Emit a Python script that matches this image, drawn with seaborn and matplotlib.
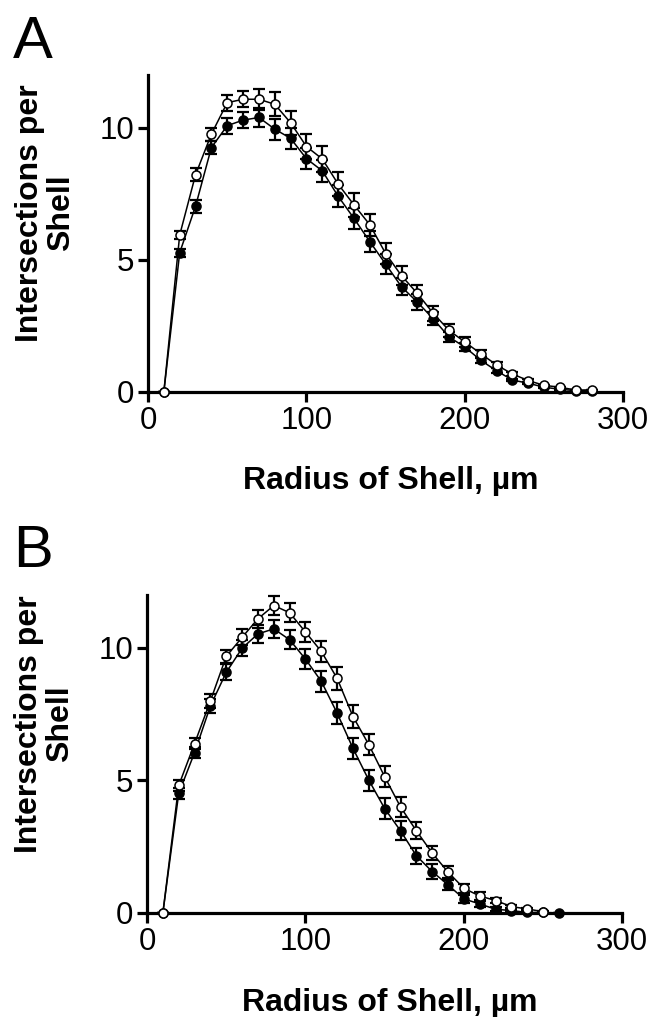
import numpy as np
import pandas as pd
import matplotlib
matplotlib.use("Agg")
import matplotlib.pyplot as plt
import seaborn as sns

# радиусы оболочек, мкм
radius_a = list(range(10, 290, 10))
radius_b_open = list(range(10, 260, 10))
radius_b_filled = list(range(10, 270, 10))

# панель A
a_open = [0, 5.94, 8.22, 9.76, 10.95, 11.08, 11.08, 10.89, 10.19, 9.29, 8.82, 7.87, 7.08, 6.33,
          5.24, 4.40, 3.73, 2.98, 2.33, 1.89, 1.45, 1.02, 0.68, 0.43, 0.25, 0.18, 0.07, 0.08]
a_open_err = [0, 0.15, 0.25, 0.25, 0.3, 0.3, 0.4, 0.45, 0.45, 0.48, 0.5, 0.45, 0.45, 0.42,
              0.4, 0.35, 0.3, 0.28, 0.25, 0.2, 0.15, 0.12, 0.08, 0.05, 0.03, 0.02, 0.01, 0.01]
a_filled = [0, 5.27, 7.03, 9.25, 10.08, 10.29, 10.39, 9.95, 9.60, 8.83, 8.37, 7.41, 6.57, 5.69,
            4.84, 3.98, 3.40, 2.77, 2.08, 1.70, 1.20, 0.80, 0.45, 0.33, 0.18, 0.10, 0.05, 0.04]
a_filled_err = [0, 0.15, 0.25, 0.25, 0.3, 0.3, 0.35, 0.4, 0.4, 0.4, 0.42, 0.42, 0.4, 0.4,
                0.37, 0.32, 0.3, 0.25, 0.2, 0.15, 0.12, 0.1, 0.05, 0.04, 0.02, 0.01, 0.01, 0.01]

# панель B
b_open = [0, 4.81, 6.39, 8.0, 9.68, 10.4, 11.1, 11.6, 11.33, 10.6, 9.87, 8.85, 7.41, 6.35,
          5.14, 4.0, 3.1, 2.26, 1.54, 0.93, 0.64, 0.47, 0.24, 0.15, 0.05]
b_open_err = [0, 0.2, 0.2, 0.25, 0.25, 0.3, 0.35, 0.35, 0.35, 0.38, 0.4, 0.42, 0.42, 0.4,
              0.4, 0.38, 0.32, 0.28, 0.22, 0.18, 0.15, 0.1, 0.06, 0.04, 0.02]
b_filled = [0, 4.51, 6.05, 7.81, 9.08, 9.99, 10.53, 10.72, 10.31, 9.58, 8.74, 7.54, 6.21, 5.01,
            3.94, 3.10, 2.16, 1.56, 1.06, 0.53, 0.34, 0.14, 0.09, 0.02, 0.02, 0.0]
b_filled_err = [0, 0.2, 0.2, 0.25, 0.3, 0.3, 0.35, 0.35, 0.35, 0.38, 0.4, 0.42, 0.41, 0.4,
                0.39, 0.36, 0.3, 0.28, 0.2, 0.15, 0.1, 0.07, 0.04, 0.02, 0.02, 0]

x_ticks = [0, 100, 200, 300]
y_ticks = [0, 5, 10]
x_label = "Radius of Shell, µm"
y_label = "Intersections per\nShell"
panel_labels = ["A", "B"]

sns.set_style("ticks")
plt.rcParams["font.family"] = ["Liberation Sans", "DejaVu Sans"]
for key in ["text.color", "axes.labelcolor", "xtick.color", "ytick.color", "axes.edgecolor"]:
    plt.rcParams[key] = "black"


def draw_series(ax, x, y, err, face):
    """Линия с кружками и планками ошибок."""
    ax.errorbar(x, y, yerr=err, fmt="none", ecolor="black", elinewidth=1.6,
                capsize=4, capthick=1.6, clip_on=False, zorder=2)
    sns.lineplot(x=x, y=y, ax=ax, color="black", lw=1.1, marker="o", markersize=6.5,
                 markerfacecolor=face, markeredgecolor="black", markeredgewidth=1.1,
                 clip_on=False, zorder=3)


def style_axes(ax):
    ax.set_xlim(0, 300)
    ax.set_ylim(0, 12)
    ax.set_xticks(x_ticks)
    ax.set_yticks(y_ticks)
    sns.despine(ax=ax)
    for s in ["left", "bottom"]:
        ax.spines[s].set_linewidth(2.3)
        ax.spines[s].set_color("black")
    ax.tick_params(axis="both", length=7, width=2.3, labelsize=22.5, pad=3,
                   direction="out", colors="black")
    ax.set_xlabel(x_label, fontsize=23, fontweight="bold")
    ax.set_ylabel(y_label, fontsize=23, fontweight="bold", linespacing=1.05)
    ax.xaxis.set_label_coords(0.51, -0.235)


fig = plt.figure(figsize=(6.52, 10.17), dpi=100)
ax_a = fig.add_axes([0.227, 0.6146, 0.729, 0.3117])
ax_b = fig.add_axes([0.2255, 0.1023, 0.729, 0.3127])

draw_series(ax_a, radius_a, a_filled, a_filled_err, "black")
draw_series(ax_a, radius_a, a_open, a_open_err, "white")
draw_series(ax_b, radius_b_filled, b_filled, b_filled_err, "black")
draw_series(ax_b, radius_b_open, b_open, b_open_err, "white")

for ax, ycen in [(ax_a, 0.565), (ax_b, 0.594)]:
    style_axes(ax)
    ax.yaxis.set_label_coords(-0.152, ycen)

fig.text(0.02, 0.985, panel_labels[0], fontsize=43,
         family=["Liberation Sans Narrow", "Liberation Sans"], va="top", ha="left")
fig.text(0.02, 0.485, panel_labels[1], fontsize=43,
         family=["Liberation Sans Narrow", "Liberation Sans"], va="top", ha="left")

fig.savefig("out.png", dpi=100)
